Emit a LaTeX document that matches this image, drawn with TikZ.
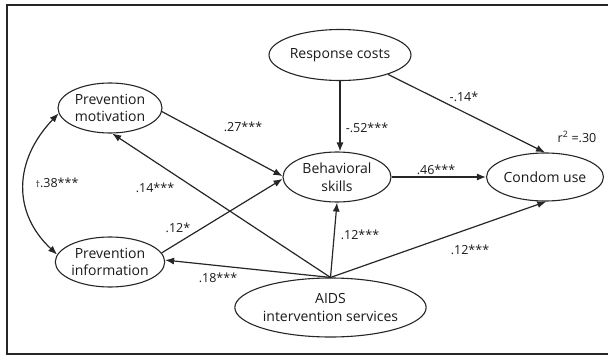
\documentclass[tikz,border=0pt]{standalone}
\usepackage{fontspec}
\setmainfont{Open Sans}
\usetikzlibrary{shapes.geometric,arrows.meta}
\begin{document}
\begin{tikzpicture}[x=1pt,y=-1pt,
  var/.style={draw=black!85,line width=1.1pt,ellipse,inner sep=0pt,align=center,
    font=\fontsize{14}{17.5}\selectfont,text=black!90},
  path/.style={draw=black!85,line width=1.2pt,-{Latex[length=9pt,width=7pt]}},
  coef/.style={font=\fontsize{12.5}{14}\selectfont,text=black!90,inner sep=0pt}]
\useasboundingbox (0,0) rectangle (608,356);
\draw[line width=2pt,black!85] (608,4.5) -- (6.5,4.5) -- (6.5,353.5) -- (608,353.5);

\node[var,minimum width=114pt,minimum height=51pt] (rc) at (340,55) {Response costs};
\node[var,minimum width=104pt,minimum height=50pt] (pm) at (110,108) {Prevention\\motivation};
\node[var,minimum width=104pt,minimum height=50pt] (pi) at (110,262) {Prevention\\information};
\node[var,minimum width=108pt,minimum height=50pt] (bs) at (337,177) {Behavioral\\skills};
\node[var,minimum width=100pt,minimum height=48pt] (cu) at (545,177) {Condom use};
\node[var,minimum width=175pt,minimum height=59pt] (ai) at (330.5,307.5) {AIDS\\intervention services};

\draw[path] (rc.south) -- (rc.south |- bs.north);
\draw[path] (rc.-22) -- (cu.90);
\draw[path] (pm.-4) -- (bs.179);
\draw[path] (pi.10) -- (bs.182);
\draw[path] (bs.east) -- (cu.west);
\draw[path] (ai.north) -- (pm.-85);
\draw[path] (ai.north) -- (pi.2);
\draw[path] (ai.north) -- (bs.south);
\draw[path] (ai.north) -- (cu.-87);
\draw[draw=black!85,line width=1.2pt,{Latex[length=9pt,width=7pt]}-{Latex[length=9pt,width=7pt]}]
  (pm.186) .. controls +(-45,47) and +(-45,-42) .. (pi.172);

\node[coef] (l1) at (367,128) {-.52***};
\node[coef] (l2) at (464,97) {-.14*};
\node[coef] (l3) at (577,137) {r\textsuperscript{2} =.30};
\node[coef] (l4) at (436,170) {.46***};
\node[coef] (l5) at (243,127) {.27***};
\node[coef] (l6) at (155,188) {.14***};
\node[coef] (l7) at (178,228) {.12*};
\node[coef] (l8) at (360,235) {.12***};
\node[coef] (l9) at (218,278) {.18***};
\node[coef] (l10) at (470,250) {.12***};
\node[coef] (l11) at (57,183) {{\fontsize{9}{9}\selectfont †}.38***};
\end{tikzpicture}
\end{document}
